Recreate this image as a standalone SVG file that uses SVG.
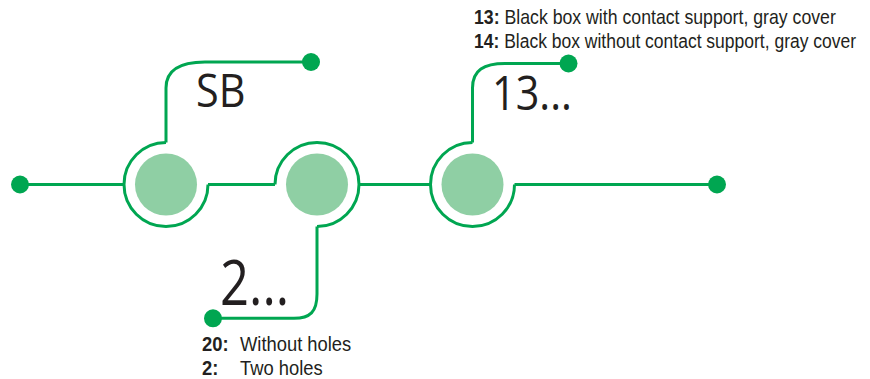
<svg xmlns="http://www.w3.org/2000/svg" width="870" height="379" viewBox="0 0 870 379">
<style>
.ln{fill:none;stroke:#00a651;stroke-width:3}
.dot{fill:#00a651}
.core{fill:#8fcfa4}
.big{font-family:"Open Sans","Noto Sans",sans-serif;fill:#231f20}
.note{font-family:"Liberation Sans",Arial,sans-serif;fill:#231f20}
.b{font-weight:bold}
</style>
<rect width="870" height="379" fill="#fff"/>
<g id="connectors">
<path class="ln" d="M20,184.5H124"/>
<path class="ln" d="M208,184.5H275"/>
<path class="ln" d="M359,184.5H430.5"/>
<path class="ln" d="M514.5,184.5H717"/>
<path class="ln" d="M166,142.5V88C166,70 180,62 205,62H311"/>
<path class="ln" d="M317,226.5V294C317,312 310,318.3 294,318.3H213"/>
<path class="ln" d="M472.5,142.5V88C472.5,70 484,63.5 505,63.5H568.5"/>
</g>
<g id="end-left"><circle class="dot" cx="20" cy="184.5" r="9"/></g>
<g id="end-right"><circle class="dot" cx="717" cy="184.5" r="9"/></g>
<g id="node-sb">
<path class="ln" d="M166,142.5A42,42 0 1,0 208,184.5"/>
<circle class="core" cx="166" cy="184.5" r="31"/>
<circle class="dot" cx="311" cy="62" r="9"/>
<text class="big" font-size="45" transform="translate(196,107) scale(0.92,1)">SB</text>
</g>
<g id="node-2">
<path class="ln" d="M275,184.5A42,42 0 1,1 317,226.5"/>
<circle class="core" cx="317" cy="184.5" r="31"/>
<circle class="dot" cx="213" cy="318.3" r="9"/>
<text class="big" font-size="62" transform="translate(220,305) scale(0.82,1)">2...</text>
<text class="note" font-size="21" transform="translate(202,351) scale(0.875,1)"><tspan class="b">20:</tspan></text>
<text class="note" font-size="21" transform="translate(240,351) scale(0.875,1)">Without holes</text>
<text class="note" font-size="21" transform="translate(202,375) scale(0.875,1)"><tspan class="b">2:</tspan></text>
<text class="note" font-size="21" transform="translate(240,375) scale(0.875,1)">Two holes</text>
</g>
<g id="node-13">
<path class="ln" d="M472.5,142.5A42,42 0 1,0 514.5,184.5"/>
<circle class="core" cx="472.5" cy="184.5" r="31"/>
<circle class="dot" cx="568.5" cy="63.5" r="9"/>
<text class="big" font-size="47" transform="translate(492,110) scale(0.88,1)">13...</text>
<text class="note" font-size="20" transform="translate(474,24) scale(0.885,1)"><tspan class="b">13:</tspan> Black box with contact support, gray cover</text>
<text class="note" font-size="20" transform="translate(474,48) scale(0.875,1)"><tspan class="b">14:</tspan> Black box without contact support, gray cover</text>
</g>
</svg>
